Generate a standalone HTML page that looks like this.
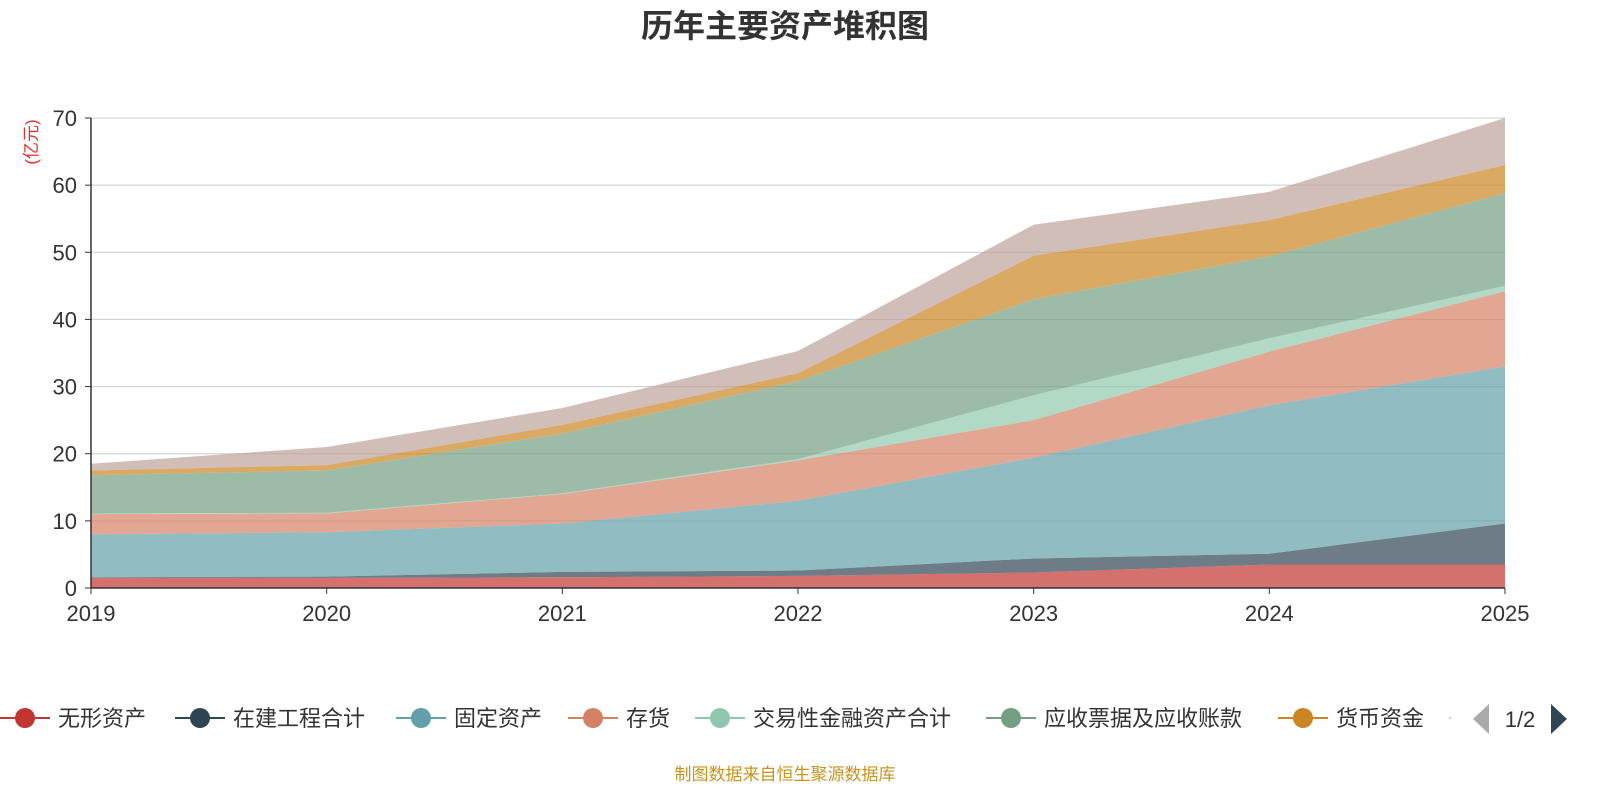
<!DOCTYPE html>
<html><head><meta charset="utf-8"><style>
body{margin:0;background:#fff;font-family:"Liberation Sans","Noto Sans CJK SC",sans-serif;}
svg text{font-family:"Liberation Sans","Noto Sans CJK SC",sans-serif;}
</style></head><body>
<svg id="chart" width="1600" height="800" xmlns="http://www.w3.org/2000/svg">
<text x="785" y="37" text-anchor="middle" font-size="32" font-weight="bold" fill="#333">历年主要资产堆积图</text>
<text transform="translate(37,142) rotate(-90)" text-anchor="middle" font-size="17" fill="#e0302b">(亿元)</text>
<g id="grid"></g><g id="areas"></g><g id="axes"></g><g id="legend"></g>
<text x="785" y="780" text-anchor="middle" font-size="17" fill="#c8941c">制图数据来自恒生聚源数据库</text>
</svg>
<script>
const years=['2019','2020','2021','2022','2023','2024','2025'];
const seriesNames=['无形资产','在建工程合计','固定资产','存货','交易性金融资产合计','应收票据及应收账款','货币资金','其他'];
const intangible=[1.5,1.5,1.6,1.8,2.3,3.5,3.5];
const construction=[0.1,0.2,0.8,0.8,2.1,1.6,6.1];
const fixedAssets=[6.4,6.6,7.2,10.4,15.0,22.1,23.4];
const inventory=[3.0,2.8,4.4,6.0,5.6,8.0,11.2];
const tradingAssets=[0.1,0.1,0.1,0.2,3.7,2.0,0.8];
const receivables=[5.7,6.3,8.9,11.6,14.3,12.2,13.8];
const cash=[0.7,0.8,1.3,1.2,6.5,5.4,4.2];
const others=[1.0,2.7,2.5,3.3,4.6,4.2,7.0];
const yTicks=[0,10,20,30,40,50,60,70];
const colors=['#c23531','#2f4554','#61a0a8','#d48265','#91c7ae','#749f83','#ca8622','#bda29a'];
const all=[intangible,construction,fixedAssets,inventory,tradingAssets,receivables,cash,others];
const X0=91,X1=1505,Y0=588,Y1=118,YMAX=70;
const xs=i=>X0+(X1-X0)*i/(years.length-1);
const ys=v=>Y0-(Y0-Y1)*v/YMAX;
const NS='http://www.w3.org/2000/svg';
function mk(tag,attrs,parent){const e=document.createElementNS(NS,tag);for(const k in attrs)e.setAttribute(k,attrs[k]);parent.appendChild(e);return e;}
const grid=document.getElementById('grid'),areas=document.getElementById('areas'),axes=document.getElementById('axes'),legend=document.getElementById('legend');
yTicks.forEach(t=>{
 if(t>0){const l=mk('line',{x1:X0,x2:X1,y1:ys(t),y2:ys(t),stroke:'#ccc','stroke-width':1},grid);
 
 }
 const tk=mk('line',{x1:X0-6,x2:X0,y1:ys(t),y2:ys(t),stroke:'#333'},axes);
 
 
 const tx=mk('text',{x:X0-14,y:ys(t)+8,'text-anchor':'end','font-size':22,fill:'#333'},axes);
 tx.textContent=t;
 
 
});
let base=years.map(()=>0);
all.forEach((s,si)=>{
 const top=base.map((b,i)=>b+s[i]);
 let d='M'+years.map((_,i)=>xs(i)+','+ys(top[i])).join('L');
 for(let i=years.length-1;i>=0;i--)d+='L'+xs(i)+','+ys(base[i]);
 d+='Z';
 const p=mk('path',{d:d,fill:colors[si],'fill-opacity':0.7,stroke:'none'},areas);
 
 
 base=top;
});
mk('line',{x1:X0,x2:X0,y1:Y1,y2:Y0,stroke:'#333','stroke-width':1.5},axes);
mk('line',{x1:X0,x2:X1,y1:Y0,y2:Y0,stroke:'#333','stroke-width':1.5},axes);
years.forEach((y,i)=>{
 const tk=mk('line',{x1:xs(i),x2:xs(i),y1:Y0,y2:Y0+6,stroke:'#333'},axes);
 
 
 const tx=mk('text',{x:xs(i),y:621,'text-anchor':'middle','font-size':22,fill:'#333'},axes);
 tx.textContent=y;
 
 
});
const legX=[0,175,396,568,695,986,1278];
for(let i=0;i<7;i++){
 const g=mk('g',{},legend);
 
 
 mk('line',{x1:legX[i],x2:legX[i]+50,y1:718,y2:718,stroke:colors[i],'stroke-width':2},g);
 mk('circle',{cx:legX[i]+25,cy:718,r:10,fill:colors[i]},g);
 const t=mk('text',{x:legX[i]+58,y:726,'font-size':22,fill:'#333'},g);
 t.textContent=seriesNames[i];
}
mk('circle',{cx:1450,cy:718,r:1,fill:'#bbb'},legend);
const pl=mk('path',{d:'M1489,704L1473,719L1489,734Z',fill:'#aaa'},legend);


const pt=mk('text',{x:1520,y:727,'text-anchor':'middle','font-size':22,fill:'#333'},legend);
pt.textContent='1/2';


const pn=mk('path',{d:'M1551,704L1567,719L1551,734Z',fill:'#2f4554'},legend);


</script>
</body></html>
